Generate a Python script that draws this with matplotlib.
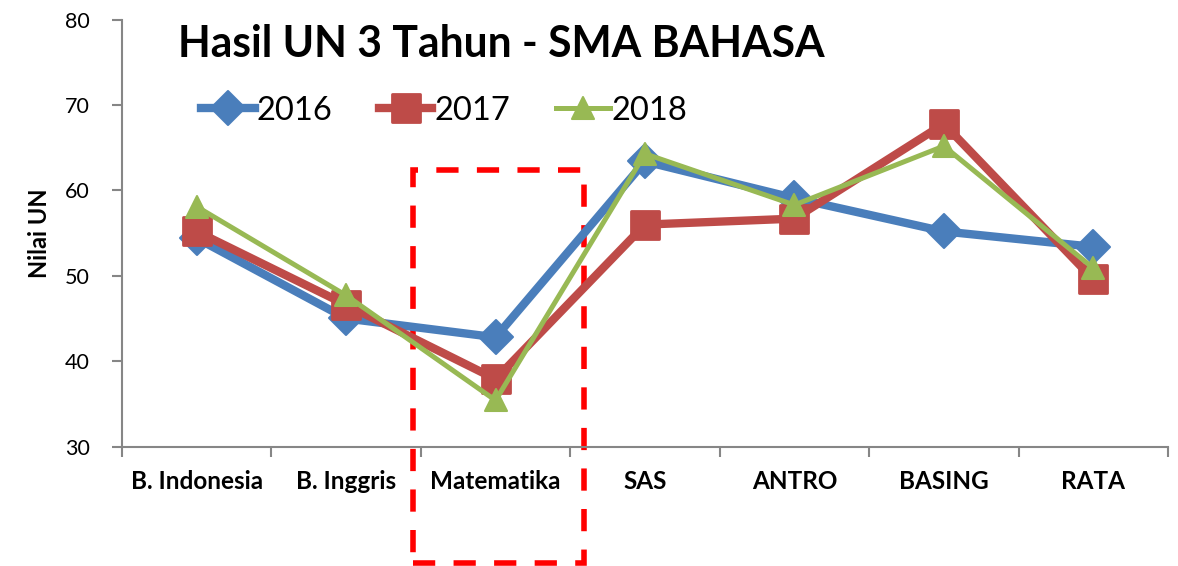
import matplotlib.pyplot as plt
from matplotlib.patches import Rectangle
from matplotlib.markers import MarkerStyle

plt.rcParams['font.family'] = ['Lato', 'DejaVu Sans']

# Data
mapel = ['B. Indonesia', 'B. Inggris', 'Matematika', 'SAS', 'ANTRO', 'BASING', 'RATA']
nilai_2016 = [54.4, 45.0, 42.8, 63.4, 59.1, 55.2, 53.4]
nilai_2017 = [55.2, 46.6, 37.9, 56.0, 56.7, 67.8, 49.6]
nilai_2018 = [58.1, 47.7, 35.4, 64.3, 58.3, 65.2, 50.9]
tahun = ['2016', '2017', '2018']

fig = plt.figure(figsize=(11.78, 5.66), dpi=100)
ax = fig.add_axes([0.1036, 0.2111, 0.8879, 0.754])

x = list(range(len(mapel)))

ax.plot(x, nilai_2016, color='#4A7EBB', lw=6, marker=MarkerStyle('D', joinstyle='round'),
        ms=17, mec='#4A7EBB', mew=1.5, label=tahun[0], solid_joinstyle='round')
ax.plot(x, nilai_2017, color='#BE4B48', lw=6, marker=MarkerStyle('s', joinstyle='round'),
        ms=20, mec='#BE4B48', mew=2, label=tahun[1], solid_joinstyle='round')
ax.plot(x, nilai_2018, color='#98B954', lw=3.6, marker=MarkerStyle('^', joinstyle='round'),
        ms=16, mec='#98B954', mew=1.5, label=tahun[2], solid_joinstyle='round')

ax.set_xlim(-0.5, len(mapel) - 0.5)
ax.set_ylim(30, 80)
ax.set_yticks([30, 40, 50, 60, 70, 80])
ax.set_xticks(x)
ax.set_xticklabels(mapel, fontweight='bold', fontsize=17.5)
ax.set_xticks([i - 0.5 for i in range(len(mapel) + 1)], minor=True)
ax.tick_params(axis='x', which='major', length=0, pad=17)
ax.tick_params(axis='x', which='minor', length=7, color='#868686', width=1.5)
ax.tick_params(axis='y', length=7, color='#868686', width=1.5, labelsize=15.5, pad=16)

for s in ['top', 'right']:
    ax.spines[s].set_visible(False)
for s in ['left', 'bottom']:
    ax.spines[s].set_color('#868686')
    ax.spines[s].set_linewidth(1.5)

ax.set_ylabel('Nilai UN', fontweight='bold', fontsize=17, labelpad=10)

fig.text(0.151, 0.899, 'Hasil UN 3 Tahun - SMA BAHASA', fontsize=30.7, fontweight='bold',
         va='baseline', ha='left')

leg = ax.legend(loc='center left', bbox_to_anchor=(0.063, 0.787), ncol=3, frameon=False,
                fontsize=23.5, handlelength=1.65, handletextpad=0.05, columnspacing=1.42,
                borderaxespad=0)

# red dashed box around Matematika
ax.add_patch(Rectangle((1.45, 16.3), 1.14, 46.1, fill=False, ec='#FF0000', lw=4,
                       ls=(0, (4, 3.3)), clip_on=False))

fig.savefig('out.png', dpi=100)
